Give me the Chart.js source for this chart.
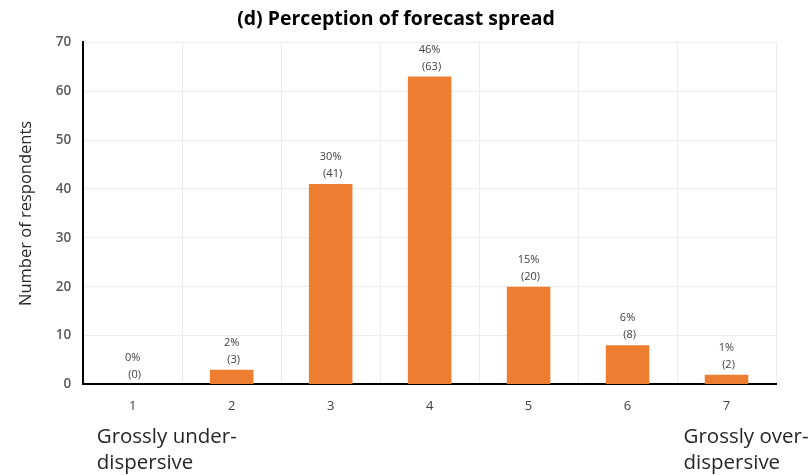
<!DOCTYPE html>
<html lang="en">
  <head>
    <meta charset="UTF-8" />
    <title>Perception of forecast spread</title>
    <style>
      html, body { margin: 0; padding: 0; background: #fff; }
      .wrap { width: 810px; height: 475px; }
    </style>
  </head>
  <body>
    <div class="wrap"><canvas id="chart" width="810" height="475"></canvas></div>
    <script src="https://cdn.jsdelivr.net/npm/chart.js"></script>
    <script>
      const categories = ["1", "2", "3", "4", "5", "6", "7"];
      const counts = [0, 3, 41, 63, 20, 8, 2];
      const percents = ["0%", "2%", "30%", "46%", "15%", "6%", "1%"];
      const endLabels = [["Grossly under-", "dispersive"], ["Grossly over-", "dispersive"]];

      const FONT = "'Open Sans', sans-serif";

      // percent + count above each bar
      const barLabels = {
        id: "barLabels",
        afterDatasetsDraw(chart) {
          const ctx = chart.ctx;
          const meta = chart.getDatasetMeta(0);
          ctx.save();
          ctx.fillStyle = "#404040";
          ctx.font = "11px " + FONT;
          ctx.textAlign = "center";
          ctx.textBaseline = "middle";
          meta.data.forEach((bar, i) => {
            ctx.fillText(percents[i], bar.x, bar.y - 27);
            ctx.fillText("(" + counts[i] + ")", bar.x + 2, bar.y - 10);
          });
          ctx.restore();
        }
      };

      // "Grossly under/over-dispersive" under the first and last ticks
      const endText = {
        id: "endText",
        afterDraw(chart) {
          const ctx = chart.ctx;
          const x = chart.scales.x;
          ctx.save();
          ctx.fillStyle = "#262626";
          ctx.font = "20.5px " + FONT;
          ctx.textAlign = "left";
          ctx.textBaseline = "middle";
          const x1 = x.getPixelForValue(0) - 36;
          const x7 = x.getPixelForValue(categories.length - 1) - 43;
          ctx.fillText(endLabels[0][0], x1, 437);
          ctx.fillText(endLabels[0][1], x1, 463);
          ctx.fillText(endLabels[1][0], x7, 437);
          ctx.fillText(endLabels[1][1], x7, 463);
          ctx.restore();
        }
      };

      new Chart(document.getElementById("chart"), {
        type: "bar",
        data: {
          labels: categories,
          datasets: [{
            data: counts,
            backgroundColor: "#ED7D31",
            barPercentage: 0.44,
            categoryPercentage: 1
          }]
        },
        options: {
          responsive: false,
          animation: false,
          layout: { padding: { left: 16, right: 34, top: 0, bottom: 47 } },
          plugins: {
            legend: { display: false },
            tooltip: { enabled: false },
            title: {
              display: true,
              text: "(d) Perception of forecast spread",
              color: "#000",
              font: { family: FONT, size: 19.5, weight: "bold" },
              padding: { top: 8, bottom: 11 }
            }
          },
          scales: {
            x: {
              grid: { color: "#ececec", offset: true, drawTicks: false },
              border: { color: "#000", width: 2 },
              ticks: { color: "#404040", padding: 14, font: { family: FONT, size: 13 } }
            },
            y: {
              min: 0,
              max: 70,
              ticks: { stepSize: 10, color: "#595959", padding: 12, font: { family: FONT, size: 13.5, weight: "600" } },
              grid: { color: "#ececec", drawTicks: false },
              border: { color: "#000", width: 2 },
              title: {
                display: true,
                text: "Number of respondents",
                color: "#262626",
                font: { family: FONT, size: 16.5 },
                padding: { top: 0, bottom: 8 }
              }
            }
          }
        },
        plugins: [barLabels, endText]
      });
    </script>
  </body>
</html>
